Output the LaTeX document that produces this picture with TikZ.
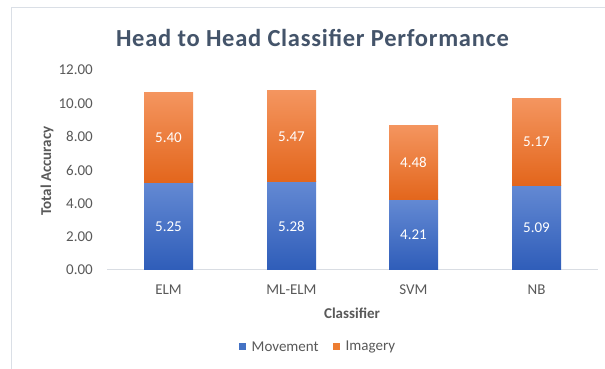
\documentclass[tikz,border=0pt]{standalone}
\usepackage{fontspec}
\setmainfont{Carlito}
\definecolor{titlec}{HTML}{44546A}
\definecolor{labc}{HTML}{595959}
\definecolor{framec}{HTML}{DADFE6}
\definecolor{axisc}{HTML}{D9DDE3}
\definecolor{bluetop}{HTML}{6389D3}
\definecolor{bluebot}{HTML}{2F5DB9}
\definecolor{orgtop}{HTML}{F4955F}
\definecolor{orgbot}{HTML}{E3661C}
\definecolor{bluekey}{HTML}{4472C4}
\definecolor{orgkey}{HTML}{ED7D31}
\tikzset{
  movbar/.style={top color=bluetop,bottom color=bluebot},
  imgbar/.style={top color=orgtop,bottom color=orgbot},
  vallab/.style={text=white,font=\fontsize{15}{18}\selectfont,inner sep=0pt},
  ticklab/.style={text=labc,font=\fontsize{15}{18}\selectfont,anchor=east,inner sep=0pt},
  catlab/.style={text=labc,font=\fontsize{15}{18}\selectfont,inner sep=0pt},
  axtitle/.style={text=labc,font=\bfseries\fontsize{15}{18}\selectfont,inner sep=0pt},
  keybox/.style={minimum size=7pt,inner sep=0pt},
}
\begin{document}
\begin{tikzpicture}[x=1pt,y=1pt]
\useasboundingbox (0,0) rectangle (605,369);
\fill[white] (0,0) rectangle (605,369);
% frame
\draw[framec,line width=1.2pt] (11.5,0) -- (11.5,361.5) -- (605,361.5);
% title
\node[text=titlec,font=\bfseries\fontsize{24.5}{28}\selectfont\addfontfeature{LetterSpace=3},anchor=base,inner sep=0pt] (title) at (312.5,322) {Head to Head Classifier Performance};
% plot
\begin{scope}[shift={(0,99)},y=16.6667pt]
  \draw[axisc,line width=1pt] (107,0) -- (598,0);
  \foreach \v in {0,2,4,6,8,10,12}{
    \node[ticklab] (t\v) at (93,\v) {\v.00};
  }
  % ELM
  \shade[movbar] (144,0) rectangle (193,5.25);
  \shade[imgbar] (144,5.25) rectangle (193,10.65);
  \node[vallab] (m1) at (168.5,2.625) {5.25};
  \node[vallab] (i1) at (168.5,7.95) {5.40};
  % ML-ELM
  \shade[movbar] (267,0) rectangle (316,5.28);
  \shade[imgbar] (267,5.28) rectangle (316,10.75);
  \node[vallab] (m2) at (291.5,2.64) {5.28};
  \node[vallab] (i2) at (291.5,8.015) {5.47};
  % SVM
  \shade[movbar] (389,0) rectangle (438,4.21);
  \shade[imgbar] (389,4.21) rectangle (438,8.69);
  \node[vallab] (m3) at (413.5,2.105) {4.21};
  \node[vallab] (i3) at (413.5,6.45) {4.48};
  % NB
  \shade[movbar] (512,0) rectangle (561,5.09);
  \shade[imgbar] (512,5.09) rectangle (561,10.26);
  \node[vallab] (m4) at (536.5,2.545) {5.09};
  \node[vallab] (i4) at (536.5,7.675) {5.17};
\end{scope}
% category labels
\node[catlab] (c1) at (168.5,79) {ELM};
\node[catlab] (c2) at (291.5,79) {ML-ELM};
\node[catlab] (c3) at (413.5,79) {SVM};
\node[catlab] (c4) at (536.5,79) {NB};
% axis titles
\node[axtitle] (xt) at (352,56) {Classifier};
\node[axtitle,rotate=90] (yt) at (47,198) {Total Accuracy};
% legend
\node[keybox,fill=bluekey] (k1) at (242.5,22) {};
\node[catlab,anchor=west] (l1) at (251.5,22) {Movement};
\node[keybox,fill=orgkey] (k2) at (336.5,22) {};
\node[catlab,anchor=west] (l2) at (345.5,22) {Imagery};
\end{tikzpicture}
\end{document}
